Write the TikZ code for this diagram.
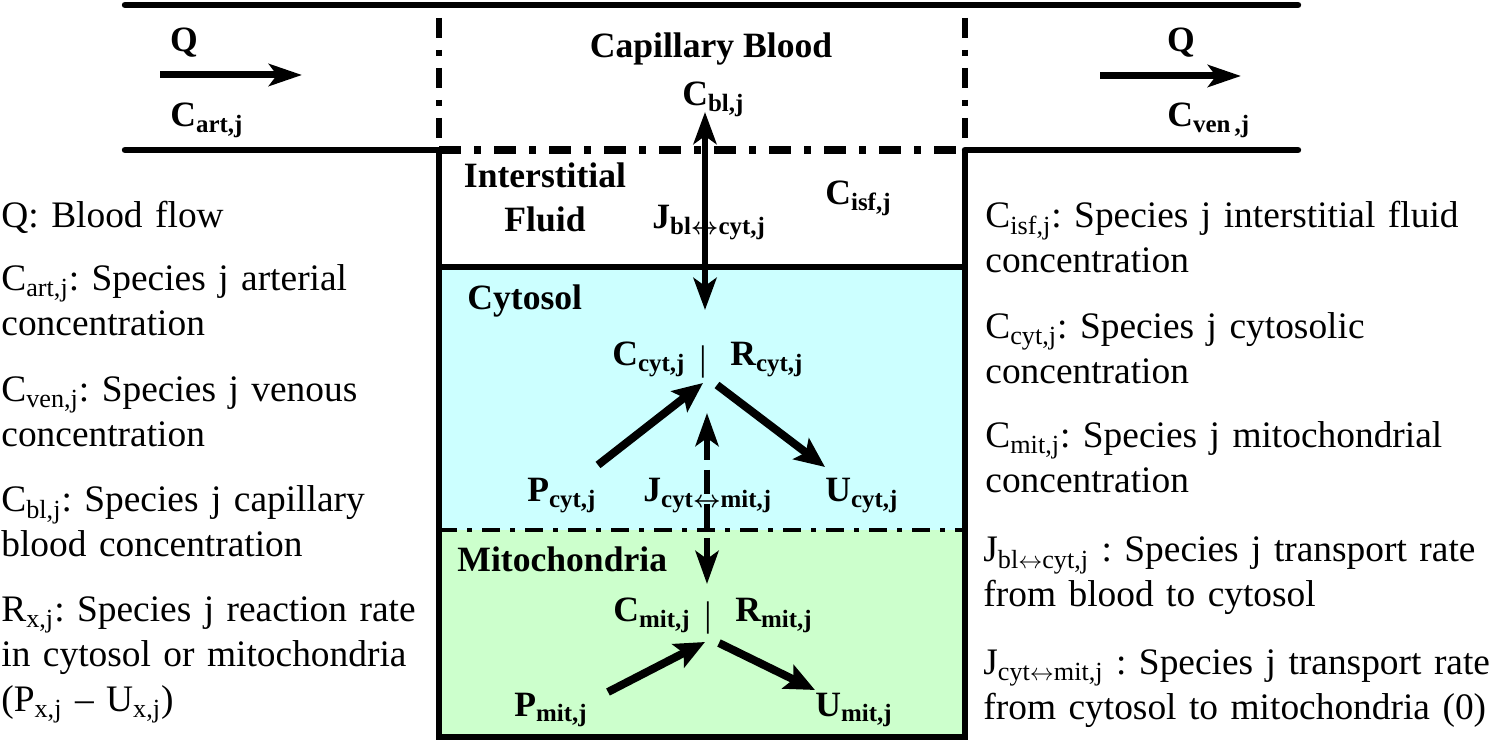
\documentclass[tikz,border=0pt]{standalone}
\usepackage{fontspec}
\setmainfont{Liberation Serif}
\usetikzlibrary{arrows.meta}
\definecolor{cytcol}{RGB}{204,255,255}
\definecolor{mitcol}{RGB}{204,255,204}
\newcommand\sbx[1]{\textsubscript{#1}}
\newcommand\lrar{$\leftrightarrow$}
\frenchspacing
\begin{document}
\begin{tikzpicture}[x=0.5pt,y=-0.5pt,
  wall/.style={line width=3.2pt},
  pipe/.style={line width=3.2pt, line cap=round},
  dashdot/.style={line width=3pt, dash pattern=on 10pt off 6pt on 3pt off 6pt},
  hdashdot/.style={line width=3.8pt, dash pattern=on 11pt off 6.5pt on 3.5pt off 6.5pt},
  thindashdot/.style={line width=2.4pt, dash pattern=on 9pt off 5pt on 2.5pt off 5pt},
  lbl/.style={font=\fontsize{17.8pt}{22pt}\selectfont\bfseries\boldmath, inner sep=0pt},
  barlbl/.style={font=\fontsize{17.8pt}{22pt}\selectfont, inner sep=0pt, anchor=base},
  leg/.style={font=\fontsize{18.7pt}{22.5pt}\selectfont, inner sep=0pt, align=left, anchor=base west, text width=300pt},
  flowarrow/.style={line width=3.5pt, -{Stealth[length=16.5pt,width=11pt,inset=4pt]}},
  transarrow/.style={line width=3.2pt, {Stealth[length=16pt,width=11.5pt,inset=4pt]}-{Stealth[length=16pt,width=11.5pt,inset=4pt]}},
  mitarrow/.style={line width=3pt, dash pattern=on 12pt off 5pt, {Stealth[length=16.5pt,width=11.5pt,inset=4pt]}-{Stealth[length=16.5pt,width=11.5pt,inset=4pt]}},
  rxnarrow/.style={line width=4pt, -{Stealth[length=15pt,width=13pt,inset=3pt]}}
]
\useasboundingbox (0,0) rectangle (1494,742);

% compartments fills
\fill[cytcol] (439,267) rectangle (965,530);
\fill[mitcol] (439,530) rectangle (965,737);

% pipe walls
\draw[pipe] (125,5) -- (1298,5);
\draw[pipe] (125,150) -- (439,150);
\draw[pipe] (965,150) -- (1298,150);

% capillary boundaries
\draw[dashdot] (439,18) -- (439,150);
\draw[dashdot] (965,18) -- (965,150);
\draw[hdashdot] (439,150) -- (965,150);

% tissue box
\draw[wall, line join=miter] (439,150) -- (439,737) -- (965,737) -- (965,150);
\draw[wall] (439,267) -- (965,267);
\draw[thindashdot] (439,530) -- (965,530);

% flow arrows
\coordinate (qla) at (160,75); \coordinate (qlb) at (302,75);
\coordinate (qra) at (1100,76); \coordinate (qrb) at (1241,76);
\draw[flowarrow] (qla) -- (qlb);
\draw[flowarrow] (qra) -- (qrb);

% transport arrows
\coordinate (jbltop) at (705,112); \coordinate (jblbot) at (705,310);
\draw[transarrow] (jbltop) -- (jblbot);
\coordinate (jcyttop) at (707,413); \coordinate (jcytbot) at (707,584);
\draw[mitarrow] (jcyttop) -- (jcytbot);

% labels
\node[lbl, anchor=base] (qleft) at (184,52) {Q};
\node[lbl, anchor=base west] (cart) at (170,127) {C\sbx{art,j}};
\node[lbl, anchor=base] (qright) at (1181,52) {Q};
\node[lbl, anchor=base west] (cven) at (1167,127) {C\sbx{ven\,,j}};
\node[lbl, anchor=base] (capblood) at (711,58) {Capillary Blood};
\node[lbl, anchor=base west] (cbl) at (682,106) {C\sbx{bl,j}};
\node[lbl, anchor=base, text width=100pt, align=center] (isf) at (545,188) {Interstitial\\Fluid};
\node[lbl, anchor=base west] (jbl) at (652,229) {J\sbx{bl\lrar cyt,j}};
\node[lbl, anchor=base west] (cisf) at (825,205) {C\sbx{isf,j}};

\node[lbl, anchor=base west] (cytosol) at (467,310) {Cytosol};
\node[lbl, anchor=base west] (ccyt) at (612,366) {C\sbx{cyt,j}};
\node[barlbl] (barcyt) at (703,371) {|};
\node[lbl, anchor=base west] (rcyt) at (730,366) {R\sbx{cyt,j}};
\node[lbl, anchor=base west] (pcyt) at (527,502) {P\sbx{cyt,j}};
\node[lbl, anchor=base west] (jcyt) at (643,502) {J\sbx{cyt\lrar mit,j}};
\node[lbl, anchor=base west] (ucyt) at (825,502) {U\sbx{cyt,j}};

\node[lbl, anchor=base west] (mito) at (457,572) {Mitochondria};
\node[lbl, anchor=base west] (cmit) at (613,622) {C\sbx{mit,j}};
\node[barlbl] (barmit) at (708,627) {|};
\node[lbl, anchor=base west] (rmit) at (735,622) {R\sbx{mit,j}};
\node[lbl, anchor=base west] (pmit) at (514,716) {P\sbx{mit,j}};
\node[lbl, anchor=base west] (umit) at (815,716) {U\sbx{mit,j}};

% reaction arrows
\coordinate (pcytend) at (598,465); \coordinate (cytin) at (703,383);
\coordinate (cytout) at (717,385); \coordinate (ucytend) at (825,467);
\draw[rxnarrow] (pcytend) -- (cytin);
\draw[rxnarrow] (cytout) -- (ucytend);
\coordinate (pmitend) at (608,692); \coordinate (mitin) at (705,642);
\coordinate (mitout) at (719,643); \coordinate (umitend) at (815,690);
\draw[rxnarrow] (pmitend) -- (mitin);
\draw[rxnarrow] (mitout) -- (umitend);

% left legend
\node[leg] (legq) at (1,228) {Q: Blood flow};
\node[leg] (legart) at (1,291) {C\sbx{art,j}: Species j arterial\\concentration};
\node[leg] (legven) at (1,402) {C\sbx{ven,j}: Species j venous\\concentration};
\node[leg] (legbl) at (1,512) {C\sbx{bl,j}: Species j capillary\\blood concentration};
\node[leg] (legrx) at (1,622) {R\sbx{x,j}: Species j reaction rate\\in cytosol or mitochondria\\(P\sbx{x,j} – U\sbx{x,j})};

% right legend
\node[leg] (legisf) at (985,228) {C\sbx{isf,j}: Species j interstitial fluid\\concentration};
\node[leg] (legcyt) at (985,339) {C\sbx{cyt,j}: Species j cytosolic\\concentration};
\node[leg] (legmit) at (985,448) {C\sbx{mit,j}: Species j mitochondrial\\concentration};
\node[leg] (legjbl) at (983,562) {J\sbx{bl\lrar cyt,j} : Species j transport rate\\from blood to cytosol};
\node[leg] (legjcyt) at (983,675) {J\sbx{cyt\lrar mit,j} : Species j transport rate\\from cytosol to mitochondria (0)};
\end{tikzpicture}
\end{document}
